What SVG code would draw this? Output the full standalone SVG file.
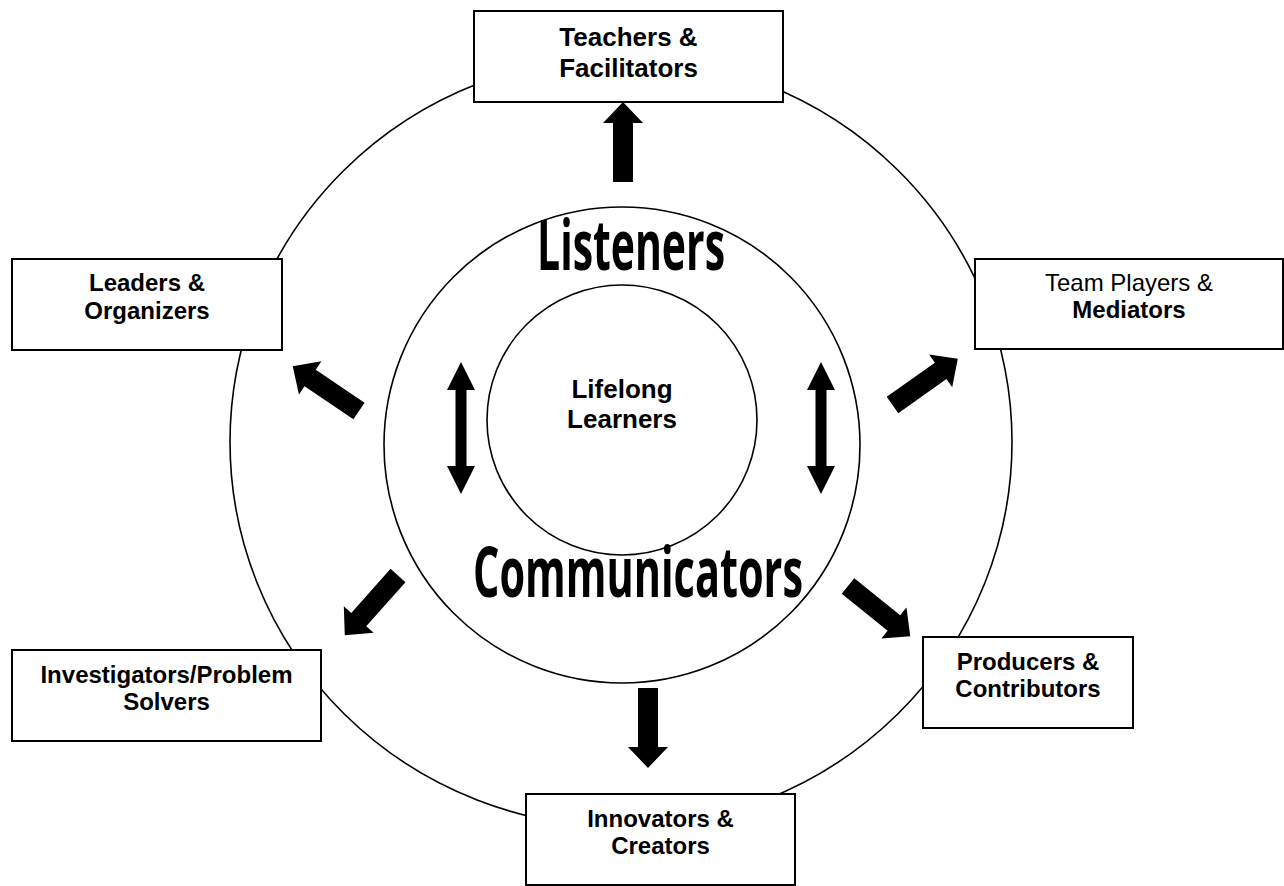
<svg xmlns="http://www.w3.org/2000/svg" xmlns:xlink="http://www.w3.org/1999/xlink" width="1284" height="886" viewBox="0 0 1284 886">
  <style>
    .ring { fill: none; stroke: #000; stroke-width: 1.6; }
    .box { fill: #fff; stroke: #000; stroke-width: 2; }
    .lbl { font-family: "Liberation Sans", Arial, sans-serif; font-size: 24px; fill: #000; text-anchor: middle; }
    .b { font-weight: bold; }
    .big { font-family: "Open Sans", "DejaVu Sans", sans-serif; font-weight: bold; font-size: 70px; fill: #000; text-anchor: start; }
    .arrow { fill: #000; }
  </style>
  <defs>
    <!-- block arrow, tail at origin, pointing along +x -->
    <path id="blk" d="M0,-10 H59 V-20 L80,0 L59,20 V10 H0 Z"/>
    <!-- two-headed vertical arrow, centred on origin -->
    <path id="dbl" d="M0,-66 L14,-38 H5.5 V38 H14 L0,66 L-14,38 H-5.5 V-38 H-14 Z"/>
  </defs>

  <rect width="1284" height="886" fill="#fff"/>

  <!-- rings -->
  <g id="rings">
    <ellipse class="ring" cx="621" cy="442" rx="391" ry="385"/>
    <circle class="ring" cx="622" cy="445" r="238"/>
  </g>

  <g id="core">
    <circle class="ring" cx="622" cy="420" r="135"/>
    <text class="lbl b" x="622" y="398" style="font-size:26px">Lifelong</text>
    <text class="lbl b" x="622" y="428" style="font-size:26px">Learners</text>
  </g>

  <g id="listeners">
    <text class="big" x="537" y="270" textLength="188" lengthAdjust="spacingAndGlyphs">Listeners</text>
  </g>
  <g id="communicators">
    <text class="big" x="473" y="597" textLength="330" lengthAdjust="spacingAndGlyphs">Communicators</text>
  </g>

  <!-- connectors -->
  <g id="connectors" class="arrow">
    <use xlink:href="#blk" transform="translate(623,182) rotate(-90)"/>
    <use xlink:href="#blk" transform="translate(359,411) rotate(214.1)"/>
    <use xlink:href="#blk" transform="translate(892.5,405) rotate(-35.3)"/>
    <use xlink:href="#blk" transform="translate(398,575.5) rotate(131.7)"/>
    <use xlink:href="#blk" transform="translate(848,586) rotate(38.9)"/>
    <use xlink:href="#blk" transform="translate(648,688) rotate(90)"/>
    <use xlink:href="#dbl" transform="translate(461,428)"/>
    <use xlink:href="#dbl" transform="translate(821,428)"/>
  </g>

  <!-- outer role boxes -->
  <g id="teachers">
    <rect class="box" x="474" y="11" width="309" height="91"/>
    <text class="lbl b" x="628.5" y="46" style="font-size:26px">Teachers &amp;</text>
    <text class="lbl b" x="628.5" y="77" style="font-size:26px">Facilitators</text>
  </g>

  <g id="leaders">
    <rect class="box" x="12" y="259" width="270" height="91"/>
    <text class="lbl b" x="147" y="291">Leaders &amp;</text>
    <text class="lbl b" x="147" y="319">Organizers</text>
  </g>

  <g id="team-players">
    <rect class="box" x="975" y="259" width="308" height="90"/>
    <text class="lbl" x="1129" y="291">Team Players &amp;</text>
    <text class="lbl b" x="1129" y="318">Mediators</text>
  </g>

  <g id="investigators">
    <rect class="box" x="12" y="650" width="309" height="91"/>
    <text class="lbl b" x="166.5" y="683">Investigators/Problem</text>
    <text class="lbl b" x="166.5" y="710">Solvers</text>
  </g>

  <g id="producers">
    <rect class="box" x="923" y="637" width="210" height="91"/>
    <text class="lbl b" x="1028" y="670">Producers &amp;</text>
    <text class="lbl b" x="1028" y="697">Contributors</text>
  </g>

  <g id="innovators">
    <rect class="box" x="526" y="794" width="269" height="91"/>
    <text class="lbl b" x="660.5" y="827">Innovators &amp;</text>
    <text class="lbl b" x="660.5" y="854">Creators</text>
  </g>
</svg>
